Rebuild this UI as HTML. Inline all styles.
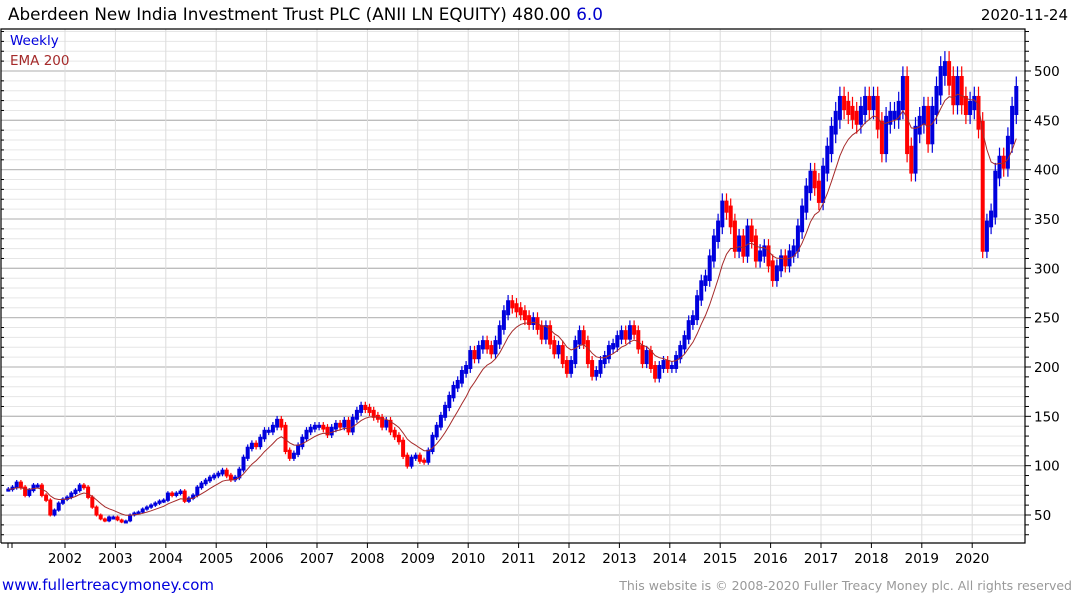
<!DOCTYPE html>
<html><head><meta charset="utf-8"><style>
body{margin:0;background:#fff;width:1075px;height:600px;overflow:hidden;font-family:"Liberation Sans","DejaVu Sans",sans-serif}
svg text{font-family:"DejaVu Sans","Liberation Sans",sans-serif}
</style></head><body>
<svg id="c" width="1075" height="600" xmlns="http://www.w3.org/2000/svg">
<text x="8" y="20" font-size="16.8" fill="#000">Aberdeen New India Investment Trust PLC (ANII LN EQUITY) 480.00 <tspan fill="#0000cc">6.0</tspan></text>
<text x="1068" y="20" font-size="15" text-anchor="end" fill="#000">2020-11-24</text>
<g id="grid"></g>
<g id="marks"></g>
<g id="axes"></g>
<text x="10" y="45" font-size="13.5" fill="#0000dd">Weekly</text>
<text x="10" y="65" font-size="13.5" fill="#a52a2a">EMA 200</text>
<text x="2" y="590" font-size="15" fill="#0000dd">www.fullertreacymoney.com</text>
<text x="1072" y="590" font-size="12.5" text-anchor="end" fill="#999">This website is © 2008-2020 Fuller Treacy Money plc. All rights reserved</text>
</svg>
<script>
const startYear = 2000, startMonth = 11;
const closes = [
76,78,
83,78,70,75,80,80,70,65,50,55,62,66,
68,72,75,80,78,68,58,50,46,44,48,48,
45,43,44,50,52,53,56,58,60,62,64,65,
72,70,72,74,64,67,70,78,82,85,88,90,
92,95,90,86,88,96,108,118,122,120,128,135,
135,140,146,140,115,108,112,120,128,135,138,140,
140,138,132,138,142,140,145,135,148,155,160,158,
155,150,148,140,145,135,130,125,110,100,108,110,
105,104,115,130,140,150,160,170,180,185,195,200,
215,210,220,225,220,215,225,240,255,265,262,258,
255,250,245,248,240,230,240,225,215,220,205,195,
205,225,235,225,205,192,195,205,210,220,222,230,
235,230,240,235,220,205,215,200,190,200,205,200,
200,210,220,230,245,250,270,285,290,310,330,345,
365,360,345,320,330,315,340,330,310,315,320,305,
290,300,310,305,315,320,340,360,380,395,385,370,
400,420,440,455,470,465,460,455,450,460,470,465,
470,445,420,450,455,455,465,490,420,400,440,450,
460,430,460,480,500,505,490,470,490,470,460,465,
470,445,320,345,355,395,410,405,430,460,480
];
const yTicks = [50,100,150,200,250,300,350,400,450,500];
const xYears = [2002,2003,2004,2005,2006,2007,2008,2009,2010,2011,2012,2013,2014,2015,2016,2017,2018,2019,2020];

const L=1, R=1025, T=29, B=543;
const yS = v => 515 - (v-50)*0.9867;
const xS = t => 65 + (t-2002)*50.4;
const NS='http://www.w3.org/2000/svg';
function mk(tag, attrs, parent){const e=document.createElementNS(NS,tag);for(const k in attrs)e.setAttribute(k,attrs[k]);parent.appendChild(e);return e;}
const grid=document.getElementById('grid'), marks=document.getElementById('marks'), axes=document.getElementById('axes');

for(let v=30; v<=540; v+=10){
  const y=yS(v); if(y<T||y>B) continue;
  const major = v%50===0;
  const g=mk('line',{x1:L,x2:R,y1:y,y2:y,stroke:major?'#bdbdbd':'#e6e6e6','stroke-width':major?1.3:1},grid);
  
  
  const tk=mk('line',{x1:R,x2:R+(major?6:4),y1:y,y2:y,stroke:'#000'},axes);
  
  
  const tl=mk('line',{x1:L,x2:L+(major?0:3),y1:y,y2:y,stroke:'#000'},axes);
  
  
}
yTicks.forEach(v=>{
  const t=mk('text',{x:1034,y:yS(v)+5,'font-size':13.5,fill:'#000'},axes);
  t.textContent=v;
  
  
});
xYears.forEach(yr=>{
  const x=xS(yr);
  const g=mk('line',{x1:x,x2:x,y1:T,y2:B,stroke:'#dcdcdc'},grid);
  
  
  const tk=mk('line',{x1:x,x2:x,y1:B,y2:B+5,stroke:'#000'},axes);
  
  
  const t=mk('text',{x:x,y:563,'font-size':13.5,'text-anchor':'middle',fill:'#000'},axes);
  t.textContent=yr;
  
  
});
[8,12].forEach(x=>{const tk=mk('line',{x1:x,x2:x,y1:B,y2:B+5,stroke:'#000'},axes);
  
  });
const fr=mk('path',{d:`M${L},${B} L${L},${T} L${R},${T} L${R},${B} L${L},${B}`,fill:'none',stroke:'#000','stroke-width':1.2},axes);



const tOf = i => startYear + (startMonth-1+i+0.5)/12;
let prev = closes[0];
closes.forEach((c,i)=>{
  const x=xS(tOf(i));
  const hi=Math.max(prev,c)*1.03, lo=Math.min(prev,c)*0.97;
  const up=c>=prev;
  const w=mk('line',{x1:x,x2:x,y1:yS(hi),y2:yS(lo),stroke:up?'#0000dd':'#ff0000','stroke-width':1.2},marks);
  
  
  const yt=yS(Math.max(prev,c)*1.01), yb=yS(Math.min(prev,c)*0.99);
  const r=mk('rect',{x:x-2,y:yt,width:4,height:Math.max(3,yb-yt),fill:up?'#0000dd':'#ff0000'},marks);
  
  
  prev=c;
});
const a=2/10.5; let e=closes[0]; let d='';
closes.forEach((c,i)=>{e = i===0?c: e+a*(c-e); d+=(i?'L':'M')+xS(tOf(i)).toFixed(1)+','+yS(e).toFixed(1);});
const ema=mk('path',{d:d,fill:'none',stroke:'#a52a2a','stroke-width':1},marks);


</script>
</body></html>
